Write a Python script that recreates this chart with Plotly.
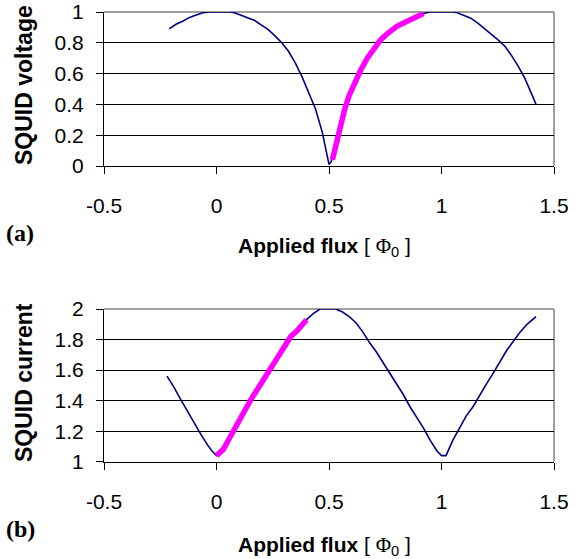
import plotly.graph_objects as go

W, H = 582, 559

# ---- data (a): SQUID voltage ----
va_x = [-0.21, -0.18, -0.15, -0.12, -0.09, -0.06, -0.03, 0.0, 0.03, 0.06, 0.08, 0.11, 0.14, 0.17,
        0.20, 0.23, 0.26, 0.29, 0.32, 0.35, 0.38, 0.41, 0.44, 0.47, 0.49, 0.50, 0.51, 0.53, 0.56,
        0.60, 0.64, 0.68, 0.72, 0.76, 0.80, 0.84, 0.88, 0.92, 0.95, 1.0, 1.05, 1.07, 1.10, 1.13,
        1.16, 1.19, 1.22, 1.25, 1.28, 1.31, 1.34, 1.37, 1.40, 1.42]
va_y = [0.89, 0.92, 0.94, 0.965, 0.98, 0.995, 1.0, 1.0, 1.0, 1.0, 0.995, 0.98, 0.965, 0.945,
        0.915, 0.885, 0.845, 0.80, 0.745, 0.67, 0.58, 0.48, 0.37, 0.22, 0.07, 0.01, 0.03, 0.15, 0.32,
        0.49, 0.62, 0.72, 0.80, 0.86, 0.90, 0.94, 0.965, 0.99, 1.0, 1.0, 1.0, 0.995, 0.98, 0.96,
        0.93, 0.895, 0.86, 0.82, 0.78, 0.72, 0.65, 0.57, 0.47, 0.40]
vm_x = [0.515, 0.53, 0.55, 0.57, 0.59, 0.61, 0.64, 0.67, 0.70, 0.73, 0.76, 0.80, 0.84, 0.88, 0.92]
vm_y = [0.04, 0.13, 0.26, 0.37, 0.46, 0.53, 0.62, 0.70, 0.76, 0.82, 0.86, 0.905, 0.935, 0.96, 0.99]

# ---- data (b): SQUID current ----
ca_x = [-0.22, -0.19, -0.16, -0.13, -0.10, -0.07, -0.04, -0.02, 0.0, 0.05, 0.10, 0.15, 0.20, 0.25,
        0.30, 0.35, 0.40, 0.43, 0.46, 0.50, 0.53, 0.56, 0.59, 0.62, 0.65, 0.68, 0.71, 0.74, 0.77,
        0.80, 0.83, 0.86, 0.89, 0.92, 0.95, 0.98, 1.0, 1.02, 1.05, 1.08, 1.11, 1.14, 1.17, 1.20,
        1.23, 1.26, 1.29, 1.32, 1.35, 1.38, 1.41, 1.42]
ca_y = [1.56, 1.49, 1.41, 1.33, 1.26, 1.18, 1.11, 1.07, 1.04, 1.14, 1.27, 1.40, 1.52, 1.64,
        1.76, 1.85, 1.93, 1.97, 2.0, 2.0, 2.0, 1.98, 1.95, 1.91, 1.85, 1.78, 1.72, 1.65, 1.58,
        1.51, 1.44, 1.36, 1.29, 1.22, 1.14, 1.07, 1.04, 1.04, 1.14, 1.22, 1.30, 1.36, 1.44, 1.51,
        1.58, 1.66, 1.73, 1.79, 1.85, 1.90, 1.94, 1.95]
cm_x = [0.0, 0.03, 0.06, 0.09, 0.12, 0.15, 0.18, 0.21, 0.24, 0.27, 0.30, 0.33, 0.36, 0.40]
cm_y = [1.04, 1.08, 1.16, 1.24, 1.33, 1.40, 1.47, 1.54, 1.61, 1.68, 1.75, 1.82, 1.86, 1.93]

x_ticks = [-0.5, 0, 0.5, 1, 1.5]
x_ticktext = ["-0.5", "0", "0.5", "1", "1.5"]
va_ticks = [0, 0.2, 0.4, 0.6, 0.8, 1]
va_ticktext = ["0", "0.2", "0.4", "0.6", "0.8", "1"]
va_grid = [0.2, 0.4, 0.6, 0.8]
ca_ticks = [1, 1.2, 1.4, 1.6, 1.8, 2]
ca_ticktext = ["1", "1.2", "1.4", "1.6", "1.8", "2"]
ca_grid = [1.2, 1.4, 1.6, 1.8]

NAVY = "#000080"
MAG = "#FF00FF"
SANS = "Liberation Sans, Arial, sans-serif"
SERIF = "Liberation Serif, Times New Roman, serif"


def px_x(p):
    return p / W


def px_y(p):
    return 1 - p / H


fig = go.Figure()
fig.add_trace(go.Scatter(x=va_x, y=va_y, mode="lines", line=dict(color=NAVY, width=1.6),
                         xaxis="x", yaxis="y", showlegend=False))
fig.add_trace(go.Scatter(x=vm_x, y=vm_y, mode="lines", line=dict(color=MAG, width=5.5),
                         xaxis="x", yaxis="y", showlegend=False))
fig.add_trace(go.Scatter(x=ca_x, y=ca_y, mode="lines", line=dict(color=NAVY, width=1.6),
                         xaxis="x2", yaxis="y2", showlegend=False))
fig.add_trace(go.Scatter(x=cm_x, y=cm_y, mode="lines", line=dict(color=MAG, width=5.5),
                         xaxis="x2", yaxis="y2", showlegend=False))

xdom = [px_x(104), px_x(554)]
tickfont = dict(family=SANS, size=21, color="black")
common_x = dict(range=[-0.5, 1.5], tickvals=x_ticks, ticktext=x_ticktext, showgrid=False,
                zeroline=False, showline=True, linecolor="black", linewidth=1, ticks="outside",
                ticklen=7, tickcolor="black", tickfont=tickfont, ticklabelstandoff=14,
                automargin=False)
common_y = dict(showgrid=False, zeroline=False, showline=True,
                linecolor="black", linewidth=1, ticks="outside", ticklen=7, tickcolor="black",
                tickfont=tickfont, ticklabelstandoff=8, automargin=False)

fig.update_layout(
    template="none",
    width=W, height=H, margin=dict(l=0, r=0, t=0, b=0, pad=0, autoexpand=False),
    paper_bgcolor="white", plot_bgcolor="white",
    xaxis=dict(domain=xdom, anchor="y", **common_x),
    yaxis=dict(domain=[px_y(166), px_y(12)], anchor="x", range=[0, 1], tickvals=va_ticks,
               ticktext=va_ticktext,
               minor=dict(tickvals=va_grid, showgrid=True, gridcolor="black", gridwidth=1, ticks=""),
               **common_y),
    xaxis2=dict(domain=xdom, anchor="y2", **common_x),
    yaxis2=dict(domain=[px_y(461.7), px_y(309)], anchor="x2", range=[1, 2], tickvals=ca_ticks,
                ticktext=ca_ticktext,
                minor=dict(tickvals=ca_grid, showgrid=True, gridcolor="black", gridwidth=1, ticks=""),
                **common_y),
)

# gray plot-area border on top and right
for xr, yr in (("x", "y"), ("x2", "y2")):
    fig.add_shape(type="line", xref=xr + " domain", yref=yr + " domain", x0=0, x1=1, y0=1, y1=1,
                  line=dict(color="#808080", width=1.5), layer="below")
    fig.add_shape(type="line", xref=xr + " domain", yref=yr + " domain", x0=1, x1=1, y0=0, y1=1,
                  line=dict(color="#808080", width=1.5), layer="below")

flux_title = ("<b>Applied flux</b> [ <span style='font-family:Liberation Serif'>\u03A6</span>"
              "<sub>0</sub> ]")
annos = [
    dict(text="<b>SQUID voltage</b>", x=px_x(24), y=px_y(85), textangle=-90,
         font=dict(family=SANS, size=23, color="black")),
    dict(text="<b>SQUID current</b>", x=px_x(24), y=px_y(383), textangle=-90,
         font=dict(family=SANS, size=23, color="black")),
    dict(text=flux_title, x=px_x(324), y=px_y(247), font=dict(family=SANS, size=21, color="black")),
    dict(text=flux_title, x=px_x(324), y=px_y(546), font=dict(family=SANS, size=21, color="black")),
    dict(text="<b>(a)</b>", x=px_x(20), y=px_y(233), font=dict(family=SERIF, size=24, color="black")),
    dict(text="<b>(b)</b>", x=px_x(20), y=px_y(529), font=dict(family=SERIF, size=24, color="black")),
]
for a in annos:
    fig.add_annotation(xref="paper", yref="paper", showarrow=False, xanchor="center",
                       yanchor="middle", **a)

fig.write_html("out.html", config={"displayModeBar": False},
               post_script="document.body.style.margin='0px';")
